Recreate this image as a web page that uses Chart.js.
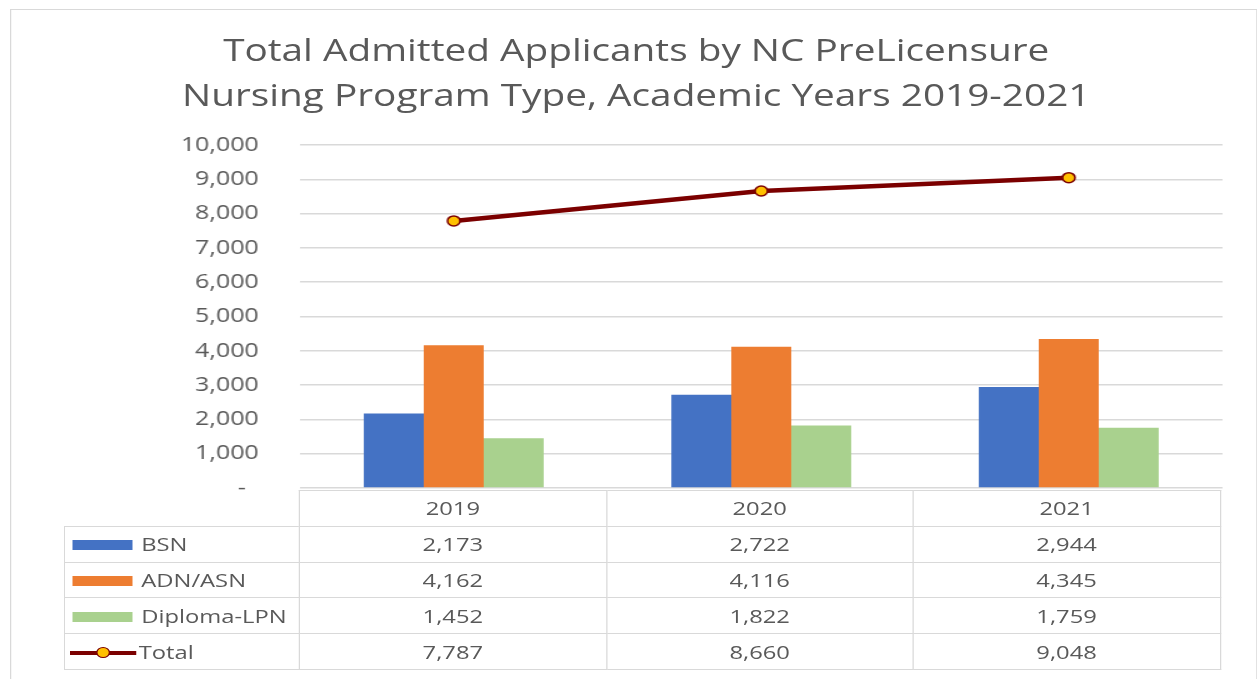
<!DOCTYPE html>
<html>
<head>
<meta charset="utf-8">
<script src="https://cdn.jsdelivr.net/npm/chart.js@4.4.1/dist/chart.umd.min.js"></script>
<style>
  html, body { margin: 0; padding: 0; background: #fff; overflow: hidden; }
  /* the source picture is stretched sideways, so the whole figure is drawn narrow and widened */
  #wrap { position: absolute; left: 0; top: 0; width: 1006px; height: 679px;
          transform: scaleX(1.25); transform-origin: 0 0;
          font-family: "Open Sans", sans-serif; color: #595959; }
  #frame { position: absolute; left: 8px; top: 9px; width: 996px; height: 700px;
           border: 1px solid #d9d9d9; }
  #title { position: absolute; left: 0; top: 27px; width: 1018px; text-align: center;
           font-size: 31px; line-height: 45px; color: #595959; }
  #chart { position: absolute; left: 0; top: 0; }
  #tbl { position: absolute; left: 51px; top: 490px; border-collapse: collapse; table-layout: fixed;
         font-size: 19px; color: #595959; }
  #tbl td { border: 1.5px solid #d9d9d9; height: 34.8px; padding: 0; text-align: center; }
  #tbl td.lab { text-align: left; white-space: nowrap; }
  #tbl td.blank { border: none; }
  .key { display: inline-block; width: 48px; height: 10px; margin: 0 7px 0 6px; vertical-align: middle; position: relative; top: -1px; }
  .lkey { display: inline-block; width: 53px; height: 12px; margin: 0 2px 0 4px; vertical-align: middle; position: relative; top: -1px; }
  .lkey .ln { position: absolute; left: 0; right: 0; top: 4px; height: 4px; background: #7b0000; }
  .lkey .dot { position: absolute; left: 21px; top: 0; width: 9px; height: 9px; border-radius: 50%;
               background: #ffc000; border: 1.5px solid #7b0000; }
</style>
</head>
<body>
<div id="wrap">
  <div id="frame"></div>
  <div id="title">Total Admitted Applicants by NC PreLicensure<br>Nursing Program Type, Academic Years 2019-2021</div>
  <canvas id="chart" width="1006" height="533"></canvas>
  <table id="tbl"></table>
</div>
<script>
const years = ['2019', '2020', '2021'];
const seriesNames = ['BSN', 'ADN/ASN', 'Diploma-LPN', 'Total'];
const bsn = [2173, 2722, 2944];
const adnAsn = [4162, 4116, 4345];
const diplomaLpn = [1452, 1822, 1759];
const total = [7787, 8660, 9048];
const yMax = 10000;
const yStep = 1000;

const blue = '#4472c4';
const orange = '#ed7d31';
const green = '#a9d18e';
const darkRed = '#7b0000';
const gold = '#ffc000';

function fmt(v) {
    return v.toLocaleString('en-US');
}

const chart = new Chart(document.getElementById('chart'), {
    type: 'bar',
    data: {
        labels: years,
        datasets: [
            {
                type: 'line',
                label: seriesNames[3],
                data: total,
                borderColor: darkRed,
                borderWidth: 4.5,
                pointRadius: 5,
                pointBackgroundColor: gold,
                pointBorderColor: darkRed,
                pointBorderWidth: 1.5,
                tension: 0,
                order: 0
            },
            { label: seriesNames[0], data: bsn, backgroundColor: blue, order: 1 },
            { label: seriesNames[1], data: adnAsn, backgroundColor: orange, order: 1 },
            { label: seriesNames[2], data: diplomaLpn, backgroundColor: green, order: 1 }
        ]
    },
    options: {
        responsive: false,
        animation: false,
        categoryPercentage: 0.585,
        barPercentage: 1.0,
        // bottom edge comes from the y tick padding (33 + half a label)
        layout: { padding: { top: 145, bottom: 0, left: 0, right: 28 } },
        plugins: {
            legend: { display: false },
            title: { display: false },
            tooltip: { enabled: false }
        },
        scales: {
            x: {
                grid: { display: false },
                border: { display: false },
                ticks: { display: false },
                afterFit: (s) => { s.height = 0; }
            },
            y: {
                min: 0,
                max: yMax,
                grid: { color: '#d9d9d9', lineWidth: 1.5, drawTicks: false },
                border: { display: false },
                ticks: {
                    stepSize: yStep,
                    padding: 33,
                    color: '#595959',
                    font: { family: 'Open Sans', size: 20 },
                    callback: (v) => v === 0 ? '-  ' : fmt(v)
                },
                afterFit: (s) => { s.width = 240; }
            }
        }
    }
});

// data table under the plot, column edges taken from the chart area
const tbl = document.getElementById('tbl');
const area = chart.chartArea;
const colW = (area.right - area.left) / years.length - 1.5;
const labW = area.left - 51 - 1.5;
tbl.style.width = (area.right - 51 - 5) + 'px';

let head = '<tr><td class="blank" style="width:' + labW + 'px"></td>';
years.forEach(y => { head += '<td style="width:' + colW + 'px">' + y + '</td>'; });
head += '</tr>';

const rows = [
    { name: seriesNames[0], vals: bsn, key: '<span class="key" style="background:' + blue + '"></span>' },
    { name: seriesNames[1], vals: adnAsn, key: '<span class="key" style="background:' + orange + '"></span>' },
    { name: seriesNames[2], vals: diplomaLpn, key: '<span class="key" style="background:' + green + '"></span>' },
    { name: seriesNames[3], vals: total, key: '<span class="lkey"><span class="ln"></span><span class="dot"></span></span>' }
];
let body = '';
rows.forEach(r => {
    body += '<tr><td class="lab">' + r.key + r.name + '</td>';
    r.vals.forEach(v => { body += '<td>' + fmt(v) + '</td>'; });
    body += '</tr>';
});
tbl.innerHTML = head + body;
</script>
</body>
</html>
